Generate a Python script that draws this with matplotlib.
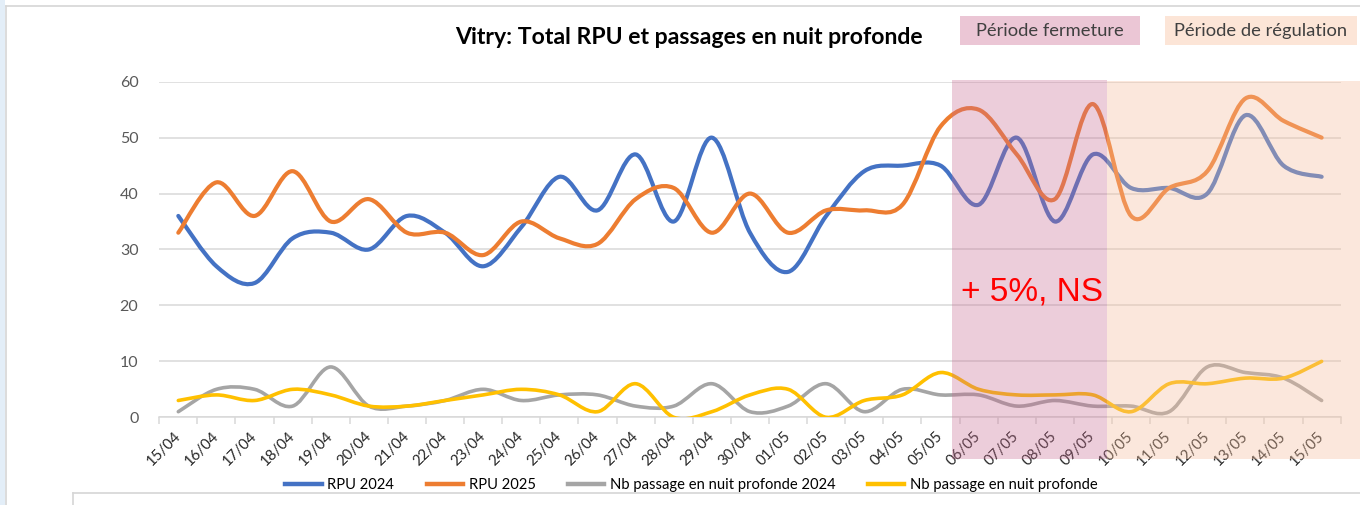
import numpy as np
import matplotlib
matplotlib.use("Agg")
import matplotlib.pyplot as plt
from matplotlib.path import Path
from matplotlib.patches import PathPatch, Rectangle
from matplotlib.lines import Line2D

OUT_FILE = "out.png"

# ── Data ──────────────────────────────────────────────────────────────────
days = ["15/04", "16/04", "17/04", "18/04", "19/04", "20/04", "21/04", "22/04",
        "23/04", "24/04", "25/04", "26/04", "27/04", "28/04", "29/04", "30/04",
        "01/05", "02/05", "03/05", "04/05", "05/05", "06/05", "07/05", "08/05",
        "09/05", "10/05", "11/05", "12/05", "13/05", "14/05", "15/05"]
rpu_2024 = [36, 27, 24, 32, 33, 30, 36, 33, 27, 34, 43, 37, 47, 35, 50, 33,
            26, 36, 44, 45, 45, 38, 50, 35, 47, 41, 41, 40, 54, 45, 43]
rpu_2025 = [33, 42, 36, 44, 35, 39, 33, 33, 29, 35, 32, 31, 39, 41, 33, 40,
            33, 37, 37, 38, 52, 55, 47, 39, 56, 36, 41, 44, 57, 53, 50]
nuit_2024 = [1, 5, 5, 2, 9, 2, 2, 3, 5, 3, 4, 4, 2, 2, 6, 1,
             2, 6, 1, 5, 4, 4, 2, 3, 2, 2, 1, 9, 8, 7, 3]
nuit_2025 = [3, 4, 3, 5, 4, 2, 2, 3, 4, 5, 4, 1, 6, 0, 1, 4,
             5, 0, 3, 4, 8, 5, 4, 4, 4, 1, 6, 6, 7, 7, 10]

series = [
    ("RPU 2024", rpu_2024, "#4472C4", 3.0),
    ("RPU 2025", rpu_2025, "#ED7D31", 3.0),
    ("Nb passage en nuit profonde 2024", nuit_2024, "#A5A5A5", 2.6),
    ("Nb passage en nuit profonde", nuit_2025, "#FFC000", 2.6),
]

FONT = ["Lato", "DejaVu Sans"]
plt.rcParams["font.family"] = FONT


def smooth_path(x, y):
    """Excel-like smoothed line: cubic Bezier through every point."""
    x = np.asarray(x, float)
    y = np.asarray(y, float)
    pts = np.column_stack([x, y])
    ext = np.vstack([pts[0], pts, pts[-1]])
    verts = [pts[0]]
    codes = [Path.MOVETO]
    for i in range(len(pts) - 1):
        p0, p1, p2, p3 = ext[i], ext[i + 1], ext[i + 2], ext[i + 3]
        verts += [p1 + (p2 - p0) / 6, p2 - (p3 - p1) / 6, p2]
        codes += [Path.CURVE4] * 3
    return Path(verts, codes)


def main():
    fig = plt.figure(figsize=(13.6, 5.05), dpi=100)
    fig.patch.set_facecolor("white")
    ax = fig.add_axes([0.1171, 0.1737, 0.8687, 0.6645])

    x = np.arange(len(days))

    # ── Lines ─────────────────────────────────────────────────────────────
    handles = []
    for label, vals, color, lw in series:
        ax.add_patch(PathPatch(smooth_path(x, vals), fill=False, edgecolor=color,
                               linewidth=lw, capstyle="round", joinstyle="round",
                               zorder=3))
        handles.append(Line2D([], [], color=color, linewidth=3.2, label=label))

    # ── Shaded periods (semi-transparent overlay, over the lines) ─────────
    ax.add_patch(Rectangle((20.31, -7.46), 24.38 - 20.31, 60.3 + 7.46,
                           facecolor="#C86A90", alpha=0.33, edgecolor="none",
                           clip_on=False, zorder=4))
    ax.add_patch(Rectangle((24.38, -7.46), 31.2 - 24.38, 60.13 + 7.46,
                           facecolor="#F6BD9B", alpha=0.35, edgecolor="none",
                           clip_on=False, zorder=4))

    ax.text(22.4, 22.4, "+ 5%, NS", color="#FF0000", fontsize=24,
            family=["Liberation Sans", "DejaVu Sans"], ha="center", va="center",
            zorder=5)

    # ── Axes ──────────────────────────────────────────────────────────────
    ax.set_xlim(-0.5, len(days) - 0.5)
    ax.set_ylim(0, 60)
    ax.set_yticks(range(0, 61, 10))
    ax.grid(axis="y", color="#D9D9D9", linewidth=1.1, zorder=0)
    ax.set_axisbelow(True)
    for side in ["top", "right", "left"]:
        ax.spines[side].set_visible(False)
    ax.spines["bottom"].set_color("#D9D9D9")
    ax.spines["bottom"].set_linewidth(1.1)

    ax.set_xticks(x)
    ax.set_xticklabels(days, rotation=45, ha="right", va="center",
                       rotation_mode="anchor", fontsize=10.8, color="#262626")
    ax.set_xticks(np.arange(-0.5, len(days), 1), minor=True)
    ax.tick_params(axis="x", which="major", length=0, pad=12)
    ax.tick_params(axis="x", which="minor", length=5, color="#D9D9D9", width=1.1)
    ax.tick_params(axis="y", length=0, pad=15, labelsize=11.5, labelcolor="#595959")

    # ── Title & period labels ─────────────────────────────────────────────
    fig.text(0.5063, 0.925, "Vitry: Total RPU et passages en nuit profonde",
             ha="center", va="center", fontsize=16.6, fontweight="bold", color="#000000")

    fig.add_artist(Rectangle((0.7059, 0.9109), 0.1324, 0.0574, transform=fig.transFigure,
                             facecolor="#EBC6D5", edgecolor="none"))
    fig.text(0.7721, 0.9386, "Période fermeture", ha="center", va="center",
             fontsize=13.2, color="#404040")
    fig.add_artist(Rectangle((0.8566, 0.9109), 0.1412, 0.0574, transform=fig.transFigure,
                             facecolor="#FCE5D7", edgecolor="none"))
    fig.text(0.9272, 0.9386, "Période de régulation", ha="center", va="center",
             fontsize=13.2, color="#404040")

    # ── Legend ────────────────────────────────────────────────────────────
    fig.legend(handles=handles, loc="center", bbox_to_anchor=(0.5085, 0.040),
               ncol=4, frameon=False, fontsize=10.6, handlelength=2.45,
               handletextpad=0.4, columnspacing=2.2)

    # ── Slide frame bits ──────────────────────────────────────────────────
    fig.add_artist(Rectangle((0, 0), 5 / 1360, 1, transform=fig.transFigure,
                             facecolor="#E3EEF8", edgecolor="none"))
    fig.add_artist(Line2D([6 / 1360, 6 / 1360], [0, 1 - 6 / 505], transform=fig.transFigure,
                          color="#D6D6D6", linewidth=1.2))
    fig.add_artist(Line2D([6 / 1360, 1], [1 - 6 / 505, 1 - 6 / 505], transform=fig.transFigure,
                          color="#D6D6D6", linewidth=1.2))
    fig.add_artist(Line2D([73 / 1360, 1], [1 - 493 / 505, 1 - 493 / 505],
                          transform=fig.transFigure, color="#D6D6D6", linewidth=1.2))
    fig.add_artist(Line2D([73 / 1360, 73 / 1360], [0, 1 - 493 / 505],
                          transform=fig.transFigure, color="#D6D6D6", linewidth=1.2))

    fig.savefig(OUT_FILE, dpi=100)


if __name__ == "__main__":
    main()
